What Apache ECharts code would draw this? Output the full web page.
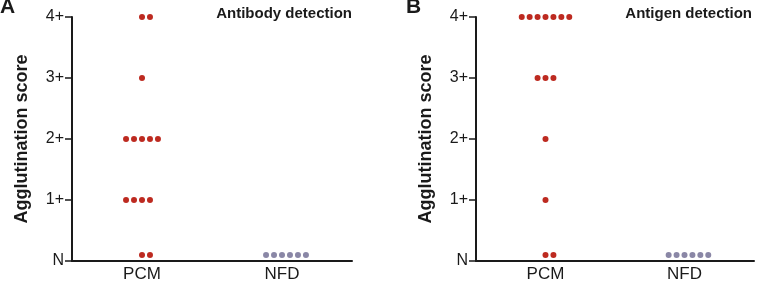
<!DOCTYPE html>
<html>
<head>
<meta charset="utf-8">
<script src="https://cdn.jsdelivr.net/npm/echarts@6/dist/echarts.min.js"></script>
<style>
    html, body { margin: 0; padding: 0; background: #fff; }
    #chart { width: 757px; height: 283px; }
</style>
</head>
<body>
<div id="chart"></div>
<script>
// tick labels of the score axis
var scoreTicks = ['N', '1+', '2+', '3+', '4+'];
// groups on the x axis (placed at 1 and 3 on a 0..4 axis)
var groups = ['PCM', 'NFD'];
var groupPos = [1, 3];

// A - antibody detection: score of each dot and the column it sits in
var abPcmScores = [4, 4, 3, 2, 2, 2, 2, 2, 1, 1, 1, 1, 0.1, 0.1];
var abPcmSlots  = [0, 1, 0, -2, -1, 0, 1, 2, -2, -1, 0, 1, 0, 1];
var abNfdScores = [0.1, 0.1, 0.1, 0.1, 0.1, 0.1];
var abNfdSlots  = [-2, -1, 0, 1, 2, 3];

// B - antigen detection
var agPcmScores = [4, 4, 4, 4, 4, 4, 4, 3, 3, 3, 2, 1, 0.1, 0.1];
var agPcmSlots  = [-3, -2, -1, 0, 1, 2, 3, -1, 0, 1, 0, 0, 0, 1];
var agNfdScores = [0.1, 0.1, 0.1, 0.1, 0.1, 0.1];
var agNfdSlots  = [-2, -1, 0, 1, 2, 3];

var slotStep = 0.114;
function toPoints(pos, scores, slots) {
    var out = [];
    for (var i = 0; i < scores.length; i++) {
        out.push([pos + slots[i] * slotStep, scores[i]]);
    }
    return out;
}

var red = '#bd2a20', grey = '#8a87a6', ink = '#1a1a1a';
var font = 'Liberation Sans, Arial, sans-serif';

function xAxisFor(grid) {
    return {
        type: 'value', gridIndex: grid, min: 0, max: 4, interval: 1,
        splitLine: { show: false },
        axisTick: { show: false },
        axisLine: { lineStyle: { color: ink, width: 2 } },
        axisLabel: {
            color: ink, fontSize: 17, fontFamily: font, margin: 5,
            showMinLabel: true, showMaxLabel: true,
            formatter: function (v) {
                var k = groupPos.indexOf(v);
                return k >= 0 ? groups[k] : '';
            }
        }
    };
}
function yAxisFor(grid) {
    return {
        type: 'value', gridIndex: grid, min: 0, max: 4, interval: 1,
        name: 'Agglutination score', nameLocation: 'middle', nameGap: 41,
        nameTextStyle: { color: ink, fontSize: 18, fontWeight: 'bold', fontFamily: font },
        splitLine: { show: false },
        axisLine: { lineStyle: { color: ink, width: 2 } },
        axisTick: { inside: false, length: 7, lineStyle: { color: ink, width: 1.5 } },
        axisLabel: {
            inside: false, color: ink, fontSize: 16, fontFamily: font, margin: 8,
            formatter: function (v) { return scoreTicks[v]; }
        }
    };
}
function dots(grid, data, color) {
    return {
        type: 'scatter', xAxisIndex: grid, yAxisIndex: grid,
        data: data, symbolSize: 6, itemStyle: { color: color, opacity: 1 },
        silent: true
    };
}

var chart = echarts.init(document.getElementById('chart'));
var option = {
    animation: false,
    backgroundColor: '#fff',
    grid: [
        { left: 72, top: 17, width: 280, height: 244 },
        { left: 476, top: 17, width: 280, height: 244 }
    ],
    xAxis: [xAxisFor(0), xAxisFor(1)],
    yAxis: [yAxisFor(0), yAxisFor(1)],
    graphic: [
        { type: 'text', left: 0, top: -3, style: { text: 'A', fontSize: 21, fontWeight: 'bold', fontFamily: font, fill: ink } },
        { type: 'text', left: 406, top: -3, style: { text: 'B', fontSize: 21, fontWeight: 'bold', fontFamily: font, fill: ink } },
        { type: 'text', right: 405, top: 6, style: { text: 'Antibody detection', fontSize: 15, fontWeight: 'bold', fontFamily: font, fill: ink } },
        { type: 'text', right: 5, top: 6, style: { text: 'Antigen detection', fontSize: 15, fontWeight: 'bold', fontFamily: font, fill: ink } }
    ],
    series: [
        dots(0, toPoints(groupPos[0], abPcmScores, abPcmSlots), red),
        dots(0, toPoints(groupPos[1], abNfdScores, abNfdSlots), grey),
        dots(1, toPoints(groupPos[0], agPcmScores, agPcmSlots), red),
        dots(1, toPoints(groupPos[1], agNfdScores, agNfdSlots), grey)
    ]
};
chart.setOption(option);
</script>
</body>
</html>
